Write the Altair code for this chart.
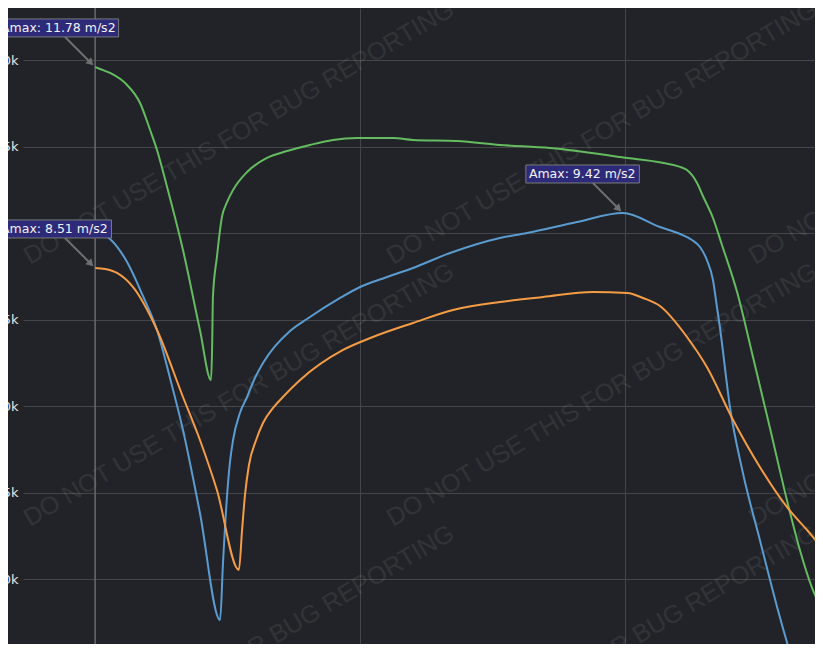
import altair as alt
import pandas as pd

# ---- data (x in arbitrary time units, y in N) ----
green_t = [0, 0.019, 0.057, 0.121, 0.170, 0.208, 0.234, 0.272, 0.332, 0.396, 0.438, 0.442, 0.445,
           0.46, 0.479, 0.497, 0.521, 0.574, 0.649, 0.725, 0.811, 0.898, 0.989, 1.125, 1.2, 1.366,
           1.528, 1.717, 1.981, 2.208, 2.234, 2.272, 2.294, 2.332, 2.366, 2.423, 2.483, 2.547, 2.611,
           2.66, 2.706, 2.747, 2.811]
green_v = [39600, 39480, 39250, 38555, 37515, 35954, 34798, 32659, 29018, 24394, 21500, 23410, 26300,
           28610, 30930, 31735, 32490, 33530, 34340, 34740, 35090, 35380, 35490, 35490, 35380, 35320,
           35090, 34910, 34390, 33820, 33640, 32891, 32139, 30868, 29307, 26590, 22833, 18730, 14568,
           11678, 9482, 8094, 5898]

blue_t = [0, 0.019, 0.057, 0.121, 0.181, 0.234, 0.283, 0.332, 0.396, 0.472, 0.483, 0.498, 0.509,
          0.521, 0.547, 0.574, 0.6, 0.634, 0.736, 0.8, 0.925, 1.0, 1.102, 1.2, 1.34, 1.528, 1.63,
          1.819, 1.992, 2.132, 2.208, 2.253, 2.283, 2.309, 2.332, 2.347, 2.358, 2.396, 2.445, 2.509,
          2.574, 2.623, 2.66]
blue_v = [30232, 30058, 29654, 28324, 26359, 24394, 21620, 18614, 13817, 7632, 10927, 14741, 16707,
          18036, 19597, 20521, 21504, 22487, 24336, 25030, 26244, 26879, 27457, 27978, 28845, 29712, 30001,
          30636, 31157, 30347, 29943, 29596, 29191, 28440, 27284, 25723, 24567, 19943, 16129, 12256,
          8383, 5725, 3875]

orange_t = [0, 0.038, 0.083, 0.143, 0.234, 0.332, 0.396, 0.46, 0.543, 0.555, 0.566, 0.581, 0.608,
            0.634, 0.672, 0.709, 0.774, 0.936, 1.049, 1.2, 1.351, 1.528, 1.691, 1.879, 2.008, 2.068,
            2.132, 2.234, 2.309, 2.408, 2.509, 2.611, 2.687, 2.747, 2.811]
orange_v = [27980, 27920, 27690, 26880, 24394, 20521, 18036, 15146, 10522, 12834, 14857, 16591, 18036,
            19019, 19886, 20521, 21504, 23238, 23989, 24799, 25550, 26012, 26301, 26590, 26533, 26244,
            25780, 23989, 22255, 19192, 16475, 14163, 12834, 11794, 11100]

series_names = ["A", "B", "C"]
series_colors = ["#65bb5f", "#5b9bd0", "#f59c45"]

ann_t = [0, 0, 1.992]
ann_v = [39600, 27980, 31157]
ann_labels = ["Amax: 11.78 m/s2", "Amax: 8.51 m/s2", "Amax: 9.42 m/s2"]

y_ticks = [10000, 15000, 20000, 25000, 30000, 35000, 40000]
x_ticks = [0, 1, 2]
cursor_t = [0]

wm_text = "DO NOT USE THIS FOR BUG REPORTING"
wm_t = [-0.2453, 1.1245, 2.4906]
wm_v = [28150, 13006, -2139]

# ---- build tables ----
rows = []
for name, ts, vs in zip(series_names, [green_t, blue_t, orange_t], [green_v, blue_v, orange_v]):
    for t, v in zip(ts, vs):
        rows.append({"series": name, "t": t, "v": v})
lines_df = pd.DataFrame(rows)
ann_df = pd.DataFrame({"t": ann_t, "v": ann_v, "label": ann_labels})
wm_df = pd.DataFrame([{"t": t, "v": v, "text": wm_text} for v in wm_v for t in wm_t])

BG = "#212328"
GRID = "#444649"

xs = alt.Scale(domain=[-0.2717, 2.717], nice=False, zero=False)
ys = alt.Scale(domain=[6243, 43006], nice=False, zero=False)

x_enc = alt.X("t:Q", scale=xs,
              axis=alt.Axis(values=x_ticks, labels=False, ticks=False, domain=False, title=None,
                            grid=True, gridColor=GRID, gridWidth=1))
y_enc = alt.Y("v:Q", scale=ys,
              axis=alt.Axis(values=y_ticks, format="~s", ticks=False, domain=False, title=None,
                            grid=True, gridColor=GRID, gridWidth=1, labelColor="#e6e6e6",
                            labelFontSize=13, labelFont="DejaVu Sans", labelPadding=5))

watermark = alt.Chart(wm_df).mark_text(
    align="left", baseline="alphabetic", angle=329.5, font="Liberation Sans", fontSize=25,
    color="#ffffff", opacity=0.07
).encode(x=alt.X("t:Q", scale=xs), y=alt.Y("v:Q", scale=ys), text="text:N")

cursor = alt.Chart(pd.DataFrame({"t": cursor_t})).mark_rule(color="#7a7a7a", strokeWidth=1).encode(
    x=alt.X("t:Q", scale=xs))

lines = alt.Chart(lines_df).mark_line(strokeWidth=2, interpolate="monotone", clip=True).encode(
    x=x_enc, y=y_enc,
    color=alt.Color("series:N", scale=alt.Scale(domain=series_names, range=series_colors), legend=None),
    detail="series:N",
)

layers = [watermark, lines, cursor]

for i, lab in enumerate(ann_labels):
    one = ann_df.iloc[[i]]
    text_w = 7.1 * len(lab)
    base = alt.Chart(one)
    arrow = base.mark_rule(color="#6f6f6f", strokeWidth=2, xOffset=-30, yOffset=-30,
                           x2Offset=-6, y2Offset=-6).encode(
        x=alt.X("t:Q", scale=xs), y=alt.Y("v:Q", scale=ys), x2="t:Q", y2="v:Q")
    head = base.mark_point(shape="triangle", filled=True, size=70, angle=135, color="#6f6f6f",
                           opacity=1, xOffset=-5, yOffset=-5).encode(
        x=alt.X("t:Q", scale=xs), y=alt.Y("v:Q", scale=ys))
    box = base.mark_rect(fill="#2d2a7a", stroke="#7a7a7a", strokeWidth=1,
                         xOffset=-97, x2Offset=-94 + text_w + 4, yOffset=-48, y2Offset=-30).encode(
        x=alt.X("t:Q", scale=xs), y=alt.Y("v:Q", scale=ys), x2="t:Q", y2="v:Q")
    txt = base.mark_text(align="left", baseline="middle", dx=-94, dy=-39, font="DejaVu Sans",
                         fontSize=12.5, color="#f2f2f2").encode(
        x=alt.X("t:Q", scale=xs), y=alt.Y("v:Q", scale=ys), text="label:N")
    layers += [arrow, head, box, txt]

chart = alt.layer(*layers).properties(
    width=792, height=636,
    autosize=alt.AutoSizeParams(type="none"),
    padding={"left": 15, "top": 0, "right": 0, "bottom": 0},
    background=BG,
).configure_view(stroke=None)

chart.save("out.html", embed_options={"renderer": "svg", "actions": False})
